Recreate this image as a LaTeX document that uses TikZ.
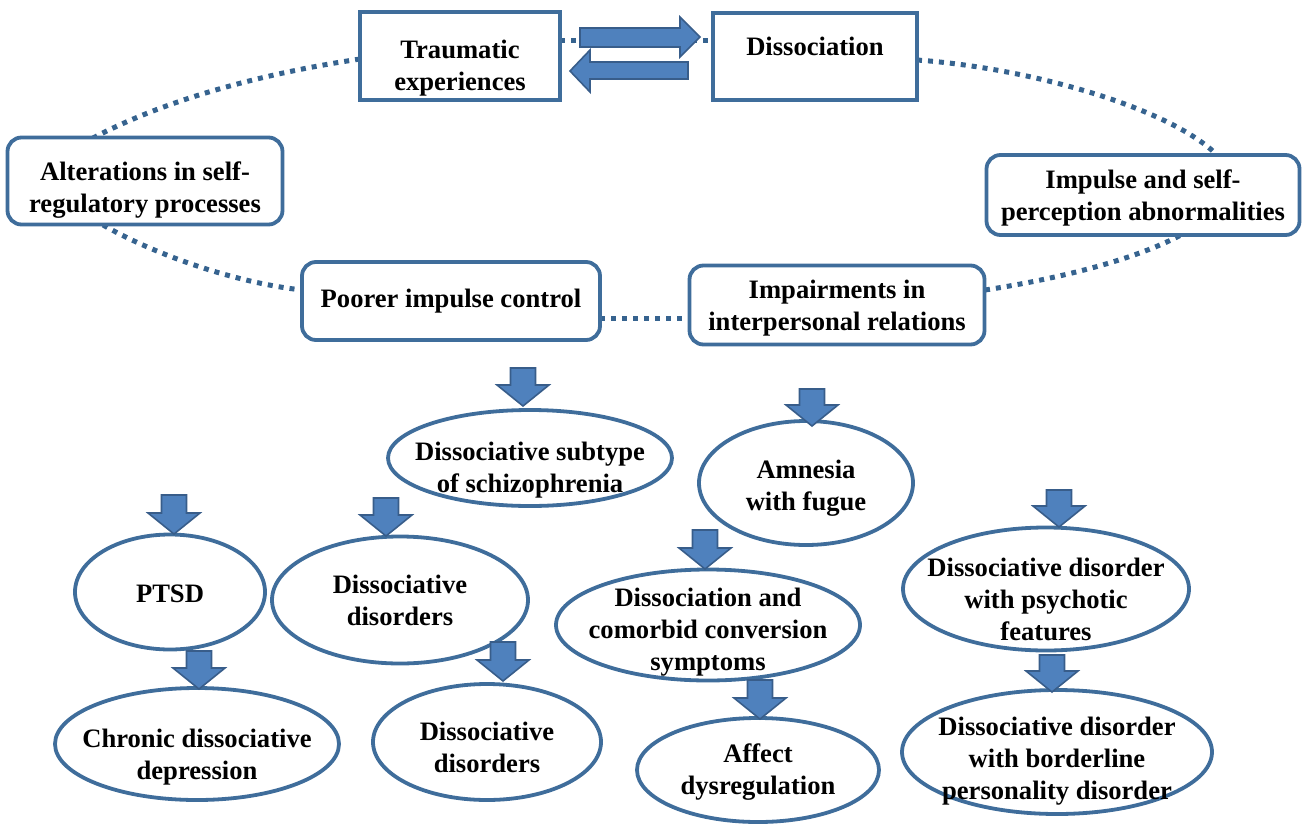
\documentclass[tikz,border=0pt]{standalone}
\usepackage{fontspec}
\setmainfont{Liberation Serif}
\usetikzlibrary{shapes.geometric,calc}
\definecolor{bordblue}{HTML}{3F6D9B}
\definecolor{dotblue}{HTML}{36638F}
\definecolor{fillblue}{HTML}{4F81BD}
\definecolor{arrline}{HTML}{385D8A}
\newcommand{\zt}[2][0pt]{\smash{\makebox[0pt]{\raisebox{\dimexpr-6pt+#1\relax}{\begin{tabular}{@{}c@{}}#2\end{tabular}}}}}
\newcommand{\dnarr}[3]{\draw[blockarr] (#1-12.5,#2) -- (#1+12.5,#2) -- (#1+12.5,#3-21) -- (#1+26,#3-21) -- (#1,#3) -- (#1-26,#3-21) -- (#1-12.5,#3-21) -- cycle;}
\begin{document}
\begin{tikzpicture}[x=1pt,y=-1pt,
  every node/.style={font=\fontsize{26.6}{32}\selectfont\bfseries, inner sep=0pt},
  sqbox/.style={draw=bordblue, line width=3.5pt, rectangle, fill=white},
  rbox/.style={draw=bordblue, line width=3.8pt, rectangle, rounded corners=14pt, fill=white},
  oval/.style={draw=bordblue, line width=3.8pt, ellipse, fill=white},
  dots/.style={draw=dotblue, line width=5pt, dash pattern=on 5pt off 6pt},
  blockarr/.style={fill=fillblue, draw=arrline, line width=1.6pt, line join=miter},
]
\useasboundingbox (0,0) rectangle (1306,827);

% dotted loop (drawn first, boxes cover the ends)
\coordinate (d1) at (560,40);
\coordinate (d2) at (713,40);
\draw[dots] (d1) -- (d2);
\draw[dots] (360,59) .. controls (260,74) and (165,100) .. (93,138);
\draw[dots] (103,225) .. controls (150,252) and (230,282) .. (302,290);
\draw[dots] (600,318) -- (690,318);
\draw[dots] (985,290) .. controls (1050,280) and (1130,262) .. (1181,235);
\draw[dots] (917,60) .. controls (1030,68) and (1170,108) .. (1217,155);

% rectangular nodes
\node[sqbox, minimum width=200pt, minimum height=88pt] (trau) at (460,56) {\zt[-12pt]{Traumatic\\experiences}};
\node[sqbox, minimum width=204pt, minimum height=87pt] (diss) at (815,56.5) {\zt[7pt]{Dissociation}};
\node[rbox, minimum width=275pt, minimum height=87pt] (alt) at (145,181) {\zt[-9pt]{Alterations in self-\\regulatory processes}};
\node[rbox, minimum width=313pt, minimum height=80pt] (imp) at (1143,195) {\zt[-3pt]{Impulse and self-\\perception abnormalities}};
\node[rbox, minimum width=298pt, minimum height=78pt] (poor) at (451,301) {\zt[0pt]{Poorer impulse control}};
\node[rbox, minimum width=295pt, minimum height=79pt] (impair) at (837,305) {\zt[-3pt]{Impairments in\\interpersonal relations}};

% horizontal block arrows between the top boxes
\draw[blockarr] (580,28) -- (680,28) -- (680,17) -- (700,37) -- (680,57) -- (680,47) -- (580,47) -- cycle;
\draw[blockarr] (688,62) -- (590,62) -- (590,50) -- (570,71) -- (590,92) -- (590,79) -- (688,79) -- cycle;

% ellipses
\node[oval, minimum width=284pt, minimum height=96pt] (schiz) at (530,458) {\zt[-12pt]{Dissociative subtype\\of schizophrenia}};
\node[oval, minimum width=214pt, minimum height=124pt] (amn) at (806,483) {\zt[-5pt]{Amnesia\\with fugue}};
\node[oval, minimum width=190pt, minimum height=115pt] (ptsd) at (170,592) {\zt[-4pt]{PTSD}};
\node[oval, minimum width=256pt, minimum height=127pt] (dd1) at (400,600) {\zt[-3pt]{Dissociative\\disorders}};
\node[oval, minimum width=304pt, minimum height=111pt] (comor) at (708,625) {\zt[-7pt]{Dissociation and\\comorbid conversion\\symptoms}};
\node[oval, minimum width=286pt, minimum height=123pt] (psych) at (1046,589) {\zt[-13pt]{Dissociative disorder\\with psychotic\\features}};
\node[oval, minimum width=284pt, minimum height=112pt] (chron) at (197,744) {\zt[-13pt]{Chronic dissociative\\depression}};
\node[oval, minimum width=228pt, minimum height=116pt] (dd2) at (487,742) {\zt[-8pt]{Dissociative\\disorders}};
\node[oval, minimum width=242pt, minimum height=104pt] (aff) at (758,770) {\zt[-2pt]{Affect\\dysregulation}};
\node[oval, minimum width=310pt, minimum height=124pt] (bord) at (1057,752) {\zt[-9pt]{Dissociative disorder\\with borderline\\personality disorder}};

% down block arrows
\dnarr{523}{368}{406}
\dnarr{812}{389}{426}
\dnarr{174}{495}{534}
\dnarr{386}{498}{536}
\dnarr{705}{530}{569}
\dnarr{1059}{490}{527}
\dnarr{199}{651}{689}
\dnarr{503}{642}{681}
\dnarr{760}{680}{719}
\dnarr{1052}{655}{692}
\end{tikzpicture}
\end{document}
